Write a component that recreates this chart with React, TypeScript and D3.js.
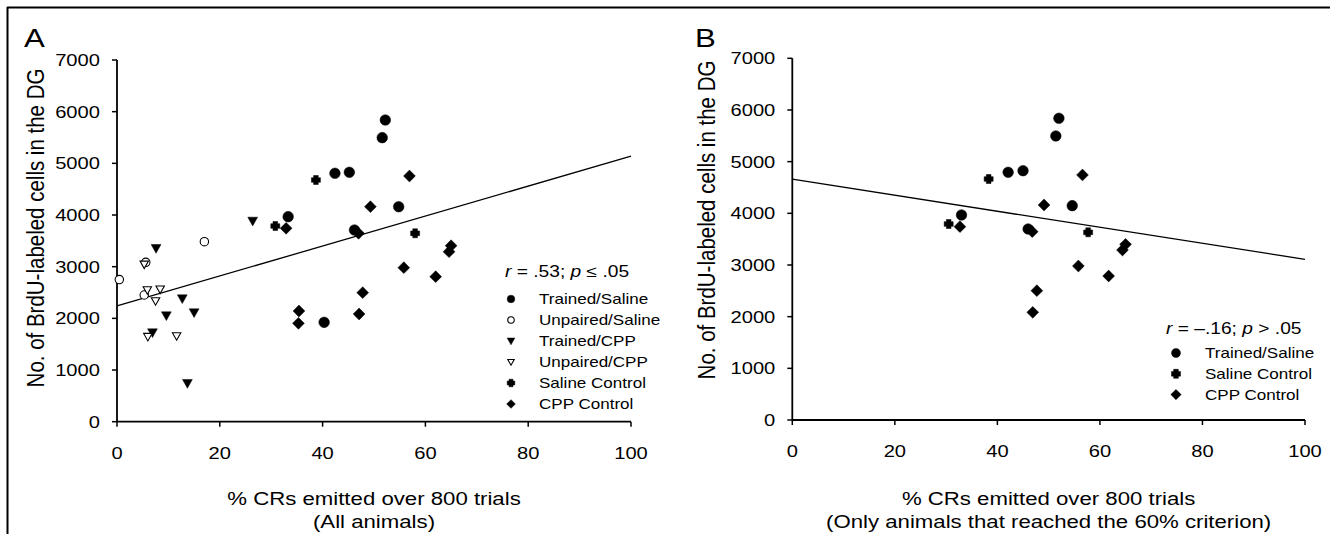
import React from "react";
import * as d3 from "d3";

type Pt = [number, number];

// ---------- Panel A data (all animals) ----------
const trainedSalineA: Pt[] = [[33.3, 3968], [40.3, 1923], [42.4, 4808], [45.2, 4827], [51.6, 5497], [52.2, 5839], [54.8, 4161], [46.2, 3710]];
const unpairedSalineA: Pt[] = [[0.45, 2750], [5.6, 3085], [5.3, 2452], [17.0, 3484]];
const trainedCppA: Pt[] = [[7.6, 3355], [6.9, 1723], [9.6, 2052], [12.7, 2381], [15.0, 2110], [13.7, 743], [26.4, 3884]];
const unpairedCppA: Pt[] = [[5.3, 3045], [5.9, 2549], [8.4, 2562], [7.5, 2336], [6.0, 1645], [11.6, 1658]];
const salineControlA: Pt[] = [[30.8, 3787], [38.7, 4678], [58.0, 3646]];
const cppControlA: Pt[] = [[32.9, 3743], [35.4, 2142], [35.3, 1904], [56.9, 4755], [49.3, 4161], [47.0, 3646], [65.0, 3406], [64.6, 3290], [55.8, 2981], [62.0, 2807], [47.8, 2497], [47.1, 2084]];
const fitA: Pt[] = [[0, 2240], [100, 5140]];

// ---------- Panel B data (animals reaching 60% criterion) ----------
const trainedSalineB: Pt[] = [[52.0, 5839], [51.4, 5497], [42.1, 4794], [45.0, 4825], [54.6, 4148], [33.0, 3968], [46.0, 3697]];
const salineControlB: Pt[] = [[38.3, 4664], [30.5, 3793], [57.7, 3632]];
const cppControlB: Pt[] = [[56.6, 4742], [49.1, 4161], [32.7, 3742], [46.8, 3645], [65.0, 3400], [64.4, 3290], [55.8, 2980], [61.7, 2787], [47.7, 2503], [46.9, 2084]];
const fitB: Pt[] = [[0, 4660], [100, 3110]];

// ---------- Axis ticks / labels ----------
const xTicks = [0, 20, 40, 60, 80, 100];
const yTicks = [0, 1000, 2000, 3000, 4000, 5000, 6000, 7000];
const yTitle = "No. of BrdU-labeled cells in the DG";
const xTitleLine1 = "% CRs emitted over 800 trials";
const xTitleA2 = "(All animals)";
const xTitleB2 = "(Only animals that reached the 60% criterion)";
const legendA = ["Trained/Saline", "Unpaired/Saline", "Trained/CPP", "Unpaired/CPP", "Saline Control", "CPP Control"];
const legendB = ["Trained/Saline", "Saline Control", "CPP Control"];

const FONT = "'Liberation Sans', Arial, sans-serif";
const SX = 1.2;

type Kind = "circle" | "openCircle" | "triDown" | "openTriDown" | "plus" | "diamond";

function markerPath(kind: Kind, s: number): string {
  switch (kind) {
    case "circle":
    case "openCircle": {
      const r = s;
      return `M${-r},0A${r},${r} 0 1,0 ${r},0A${r},${r} 0 1,0 ${-r},0Z`;
    }
    case "triDown":
    case "openTriDown":
      return `M${-s},${-s * 0.78}L${s},${-s * 0.78}L0,${s}Z`;
    case "diamond":
      return `M0,${-s}L${s},0L0,${s}L${-s},0Z`;
    case "plus": {
      const a = s, t = s * 0.52;
      return `M${-t},${-a}L${t},${-a}L${t},${-t}L${a},${-t}L${a},${t}L${t},${t}L${t},${a}L${-t},${a}L${-t},${t}L${-a},${t}L${-a},${-t}L${-t},${-t}Z`;
    }
  }
}

function Marker({ kind, x, y, s }: { kind: Kind; x: number; y: number; s: number }) {
  const open = kind === "openCircle" || kind === "openTriDown";
  return (
    <path
      d={markerPath(kind, s)}
      transform={`translate(${x},${y})`}
      fill={open ? "#fff" : "#000"}
      stroke="#000"
      strokeWidth={open ? 1.1 : 0.5}
    />
  );
}

const plotSize: Record<Kind, number> = { circle: 5.3, openCircle: 4.2, triDown: 4.9, openTriDown: 4.2, plus: 4.5, diamond: 5.9 };

function T({ x, y, size, anchor = "start", rotate = false, children, weight }: any) {
  const tf = rotate ? `translate(${x},${y}) scale(${SX},1) rotate(-90)` : `translate(${x},${y}) scale(${SX},1)`;
  return (
    <text transform={tf} fontFamily={FONT} fontSize={size} textAnchor={anchor} fill="#000" fontWeight={weight}>
      {children}
    </text>
  );
}

interface PanelProps {
  x0: number; x1: number; y0: number; y1: number;
  series: { kind: Kind; data: Pt[] }[];
  fit: Pt[];
  letter: string; letterX: number;
  titleX: number; titleY: number;
  xTitle2: string;
  stat: React.ReactNode; statX: number; statY: number;
  legend: string[]; legendKinds: Kind[]; legX: number; legTextX: number; legY0: number; legDy: number; legS: number;
}

function Panel(p: PanelProps) {
  const x = d3.scaleLinear().domain([0, 100]).range([p.x0, p.x1]);
  const y = d3.scaleLinear().domain([0, 7000]).range([p.y0, p.y1]);
  const line = d3.line<Pt>().x(d => x(d[0])).y(d => y(d[1]));
  const cx = (p.x0 + p.x1) / 2;
  return (
    <g>
      <T x={p.letterX} y={47} size={26}>{p.letter}</T>
      {/* axes */}
      <line x1={p.x0} x2={p.x0} y1={y(7000)} y2={y(0)} stroke="#000" strokeWidth={1.8} />
      <line x1={p.x0} x2={p.x1} y1={y(0)} y2={y(0)} stroke="#000" strokeWidth={1.8} />
      {yTicks.map(t => (
        <g key={"y" + t}>
          <line x1={p.x0 - 5} x2={p.x0} y1={y(t)} y2={y(t)} stroke="#000" strokeWidth={1.5} />
          <T x={p.x0 - 17} y={y(t) + 6} size={16.8} anchor="end">{t}</T>
        </g>
      ))}
      {xTicks.map(t => (
        <g key={"x" + t}>
          <line x1={x(t)} x2={x(t)} y1={y(0)} y2={y(0) + 5} stroke="#000" strokeWidth={1.5} />
          <T x={x(t)} y={y(0) + 37} size={16.8} anchor="middle">{t}</T>
        </g>
      ))}
      <T x={p.titleX} y={p.titleY} size={20.5} anchor="middle" rotate>{yTitle}</T>
      <T x={cx} y={505} size={18.5} anchor="middle">{xTitleLine1}</T>
      <T x={cx} y={528} size={18.5} anchor="middle">{p.xTitle2}</T>
      {/* regression line */}
      <path d={line(p.fit) || ""} fill="none" stroke="#000" strokeWidth={1.3} />
      {/* points */}
      {p.series.map((s, i) => (
        <g key={i}>
          {s.data.map((d, j) => (
            <Marker key={j} kind={s.kind} x={x(d[0])} y={y(d[1])} s={plotSize[s.kind]} />
          ))}
        </g>
      ))}
      {/* legend */}
      <T x={p.statX} y={p.statY} size={16}>{p.stat}</T>
      {p.legend.map((name, i) => (
        <g key={name}>
          <Marker kind={p.legendKinds[i]} x={p.legX} y={p.legY0 + i * p.legDy} s={p.legS * (p.legendKinds[i] === "openCircle" || p.legendKinds[i] === "openTriDown" ? 0.85 : 1) * (p.legendKinds[i] === "diamond" ? 1.15 : 1)} />
          <T x={p.legTextX} y={p.legY0 + i * p.legDy + 5} size={14.2}>{name}</T>
        </g>
      ))}
    </g>
  );
}

export default function App() {
  const statA = (
    <>
      <tspan fontStyle="italic">r</tspan> = .53; <tspan fontStyle="italic">p</tspan> ≤ .05
    </>
  );
  const statB = (
    <>
      <tspan fontStyle="italic">r</tspan> = –.16; <tspan fontStyle="italic">p</tspan> &gt; .05
    </>
  );
  return (
    <svg width={1330} height={534} style={{ position: "absolute", left: 0, top: 0, background: "#fff" }}>
      <rect x={0} y={0} width={1330} height={534} fill="#fff" />
      <line x1={7} x2={1330} y1={7.5} y2={7.5} stroke="#000" strokeWidth={2} />
      <line x1={7.5} x2={7.5} y1={7} y2={534} stroke="#000" strokeWidth={2} />
      <Panel
        x0={117} x1={631} y0={421.7} y1={60}
        series={[
          { kind: "circle", data: trainedSalineA },
          { kind: "openCircle", data: unpairedSalineA },
          { kind: "triDown", data: trainedCppA },
          { kind: "openTriDown", data: unpairedCppA },
          { kind: "plus", data: salineControlA },
          { kind: "diamond", data: cppControlA },
        ]}
        fit={fitA}
        letter="A" letterX={24}
        titleX={44} titleY={228}
        xTitle2={xTitleA2}
        stat={statA} statX={505} statY={277}
        legend={legendA}
        legendKinds={["circle", "openCircle", "triDown", "openTriDown", "plus", "diamond"]}
        legX={511} legTextX={539} legY0={299} legDy={21} legS={3.8}
      />
      <Panel
        x0={792.3} x1={1305} y0={420} y1={58.3}
        series={[
          { kind: "circle", data: trainedSalineB },
          { kind: "plus", data: salineControlB },
          { kind: "diamond", data: cppControlB },
        ]}
        fit={fitB}
        letter="B" letterX={695}
        titleX={715} titleY={220}
        xTitle2={xTitleB2}
        stat={statB} statX={1166} statY={334}
        legend={legendB}
        legendKinds={["circle", "plus", "diamond"]}
        legX={1176} legTextX={1205} legY0={353} legDy={20.8} legS={4.5}
      />
    </svg>
  );
}
